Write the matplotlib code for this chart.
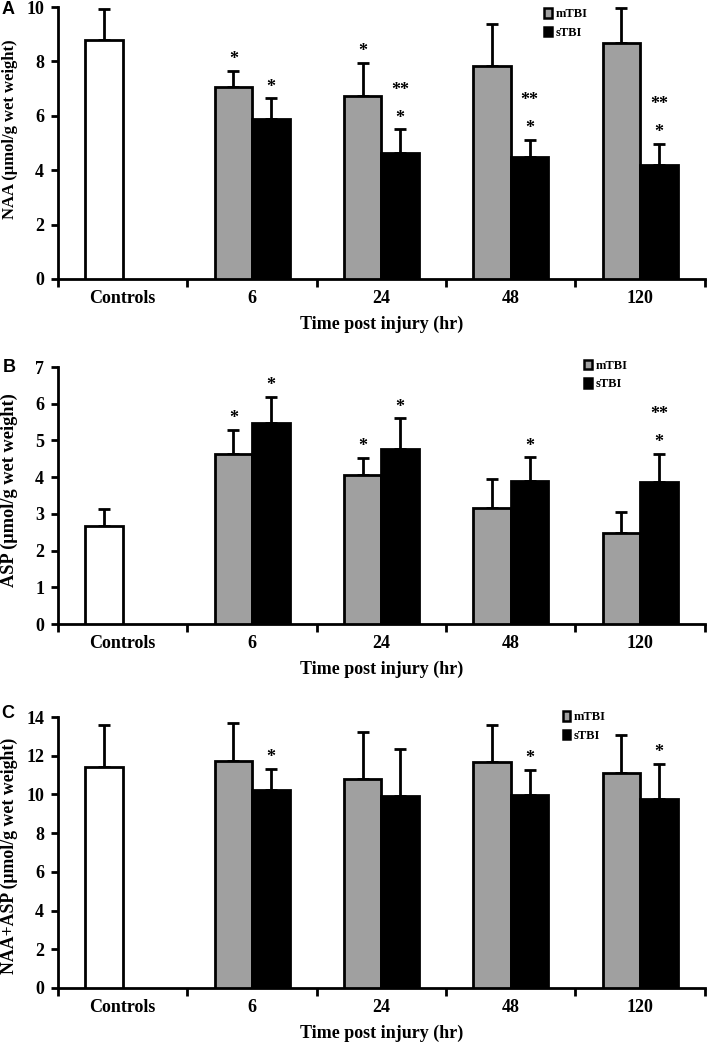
import matplotlib
matplotlib.use("Agg")
import matplotlib.pyplot as plt
from matplotlib.patches import Patch

plt.rcParams["font.family"] = ["Liberation Serif", "DejaVu Serif"]

categories = ["Controls", "6", "24", "48", "120"]

# panel A - NAA
naa_mtbi = [8.78, 7.07, 6.72, 7.84, 8.66]
naa_mtbi_err = [1.13, 0.57, 1.23, 1.55, 1.30]
naa_stbi = [None, 5.90, 4.65, 4.47, 4.19]
naa_stbi_err = [None, 0.74, 0.85, 0.65, 0.77]
naa_mtbi_stars = ["", "*", "*", "", ""]
naa_stbi_stars = ["", "*", "**\n*", "**\n*", "**\n*"]

# panel B - ASP
asp_mtbi = [2.67, 4.62, 4.06, 3.16, 2.47]
asp_mtbi_err = [0.46, 0.67, 0.47, 0.79, 0.59]
asp_stbi = [None, 5.48, 4.78, 3.89, 3.87]
asp_stbi_err = [None, 0.70, 0.82, 0.65, 0.76]
asp_mtbi_stars = ["", "*", "*", "", ""]
asp_stbi_stars = ["", "*", "*", "*", "**\n*"]

# panel C - NAA+ASP
sum_mtbi = [11.40, 11.75, 10.80, 11.66, 11.11]
sum_mtbi_err = [2.19, 1.96, 2.42, 1.93, 1.96]
sum_stbi = [None, 10.21, 9.90, 9.97, 9.77]
sum_stbi_err = [None, 1.12, 2.44, 1.30, 1.81]
sum_mtbi_stars = ["", "", "", "", ""]
sum_stbi_stars = ["", "*", "", "*", "*"]

GRAY = "#a0a0a0"
W = 0.29
LW = 2.0


def star(ax, txt, x, y):
    ax.annotate(txt, (x, y), xytext=(0, 2), textcoords="offset points",
                ha="center", va="bottom", fontsize=13, fontweight="bold", linespacing=1.85)


def draw_panel(ax, m, me, s, se, mst, sst, ymax, step, ylabel, ylsize, ylpos, leg_xy):
    for i in range(len(categories)):
        color = "white" if i == 0 else GRAY
        xm = i - W / 2
        ax.bar(xm, m[i], W, color=color, edgecolor="black", linewidth=LW, zorder=3)
        ax.errorbar(xm, m[i], yerr=[[0], [me[i]]], fmt="none", ecolor="black",
                    elinewidth=LW, capsize=4.5, capthick=LW, zorder=2)
        if mst[i]:
            star(ax, mst[i], xm, m[i] + me[i])
        if s[i] is None:
            continue
        xs = i + W / 2
        ax.bar(xs, s[i], W, color="black", edgecolor="black", linewidth=LW, zorder=3)
        ax.errorbar(xs, s[i], yerr=[[0], [se[i]]], fmt="none", ecolor="black",
                    elinewidth=LW, capsize=4.5, capthick=LW, zorder=2)
        if sst[i]:
            star(ax, sst[i], xs, s[i] + se[i])

    ax.set_xlim(-0.5, len(categories) - 0.5)
    ax.set_ylim(0, ymax)
    ax.set_yticks(range(0, ymax + 1, step))
    ax.set_xticks([i - 0.5 for i in range(len(categories) + 1)])
    ax.set_xticklabels([])
    ax.set_xticks(range(len(categories)), minor=True)
    ax.set_xticklabels(categories, minor=True)
    ax.tick_params(axis="x", which="major", direction="out", length=6, width=LW)
    ax.tick_params(axis="x", which="minor", length=0, pad=8, labelsize=13)
    ax.tick_params(axis="y", direction="out", length=5, width=LW, labelsize=13, pad=5)
    for lab in ax.get_xticklabels(minor=True) + ax.get_yticklabels():
        lab.set_fontweight("bold")
    for sp in ["top", "right"]:
        ax.spines[sp].set_visible(False)
    for sp in ["left", "bottom"]:
        ax.spines[sp].set_linewidth(LW)
    ax.set_ylabel(ylabel, fontsize=ylsize, fontweight="bold")
    ax.yaxis.set_label_coords(-0.0618, ylpos)
    ax.set_xlabel("Time post injury (hr)", fontsize=13, fontweight="bold", labelpad=6)
    handles = [Patch(facecolor=GRAY, edgecolor="black", linewidth=1.8),
               Patch(facecolor="black", edgecolor="black", linewidth=1.8)]
    ax.legend(handles, ["mTBI", "sTBI"], loc="upper left", bbox_to_anchor=leg_xy,
              bbox_transform=ax.figure.transFigure, frameon=False,
              prop={"size": 9, "weight": "bold"},
              handlelength=0.6, handleheight=0.8, handletextpad=0.3, labelspacing=0.5,
              borderpad=0)


fig = plt.figure(figsize=(7.09, 10.46), dpi=100)
axA = fig.add_axes([0.082, 0.7333, 0.912, 0.26])
axB = fig.add_axes([0.082, 0.4034, 0.912, 0.2457])
axC = fig.add_axes([0.082, 0.0555, 0.912, 0.2590])

draw_panel(axA, naa_mtbi, naa_mtbi_err, naa_stbi, naa_stbi_err, naa_mtbi_stars, naa_stbi_stars,
           10, 2, "NAA (\u03bcmol/g wet weight)", 12, 0.551, (0.759, 0.998))
draw_panel(axB, asp_mtbi, asp_mtbi_err, asp_stbi, asp_stbi_err, asp_mtbi_stars, asp_stbi_stars,
           7, 1, "ASP (\u03bcmol/g wet weight)", 13.2, 0.52, (0.815, 0.662))
draw_panel(axC, sum_mtbi, sum_mtbi_err, sum_stbi, sum_stbi_err, sum_mtbi_stars, sum_stbi_stars,
           14, 2, "NAA+ASP (\u03bcmol/g wet weight)", 12.8, 0.487, (0.785, 0.326))

for letter, x, y in [("A", 8, 10), ("B", 9, 367), ("C", 8, 714)]:
    fig.text(x / 709, 1 - y / 1046, letter, fontsize=13, fontweight="bold",
             family=["Liberation Sans", "DejaVu Sans"], ha="center", va="center")

fig.savefig("out.png", dpi=100)
